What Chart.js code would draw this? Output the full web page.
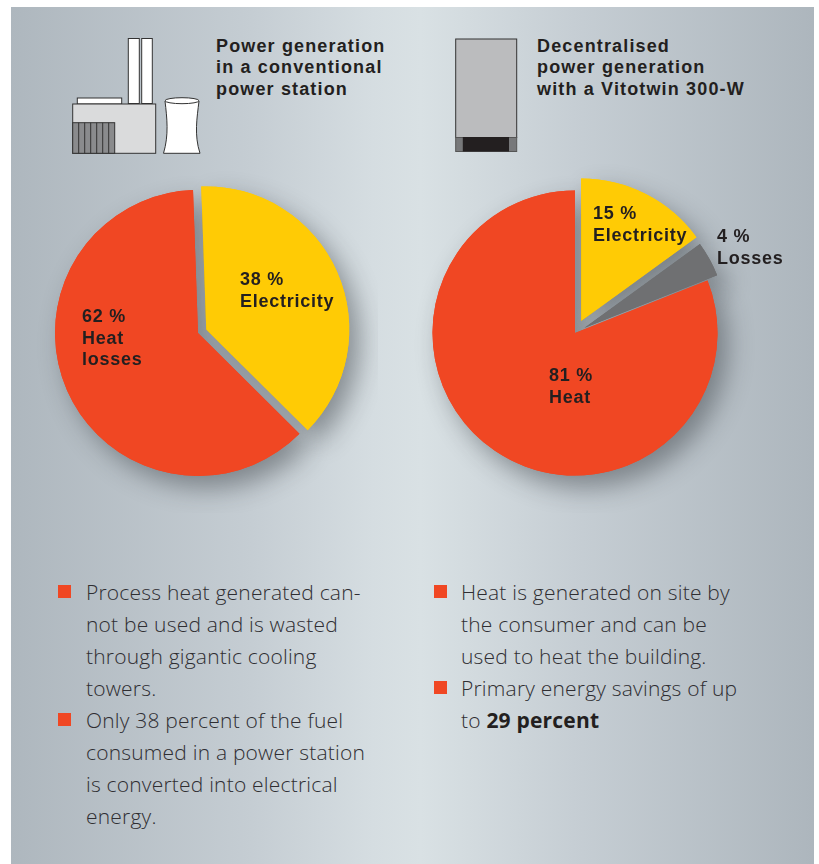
<!DOCTYPE html>
<html>
<head>
<meta charset="utf-8">
<title>Power generation</title>
<script src="https://cdn.jsdelivr.net/npm/chart.js@4"></script>
<style>
html, body { margin: 0; padding: 0; background: #fff; }
body { position: relative; width: 819px; height: 864px; overflow: hidden; color: #2a282a; }
#panel { position: absolute; left: 10.5px; top: 6.5px; width: 803px; height: 858px;
  background: linear-gradient(90deg, #aeb7be 0%, #c5cdd3 30%, #d5dde1 45%, #d9e1e4 51%, #d3dbdf 57%, #c6ced4 70%, #adb6bd 100%); }
canvas { position: absolute; }
svg { position: absolute; left: 0; top: 0; }
.head, .lab { position: absolute; font-family: "Liberation Sans", sans-serif; font-weight: 700; font-size: 18px;
  line-height: 21.5px; white-space: pre; color: #231f20; }
.head { letter-spacing: 1.15px; }
.lab { letter-spacing: 0.75px; }
.item { position: absolute; font-family: "Open Sans", sans-serif; font-weight: 300; font-size: 21px;
  line-height: 32px; letter-spacing: 0.2px; white-space: pre; color: #2f2e32; }
.item b { font-weight: 700; color: #231f20; }
.mark { position: absolute; width: 13px; height: 13px; background: #f04723; }
</style>
</head>
<body>
<div id="panel"></div>
<svg width="819" height="864">
  <!-- power station -->
  <g stroke="#333" stroke-width="1">
    <rect x="128.3" y="38.5" width="11" height="65" fill="#fff"/>
    <rect x="141.7" y="38.5" width="10.6" height="65" fill="#fff"/>
    <rect x="77.3" y="98" width="44.4" height="6" fill="#fff"/>
    <rect x="72.7" y="104" width="83" height="49.3" fill="#dadbdc"/>
    <rect x="72.7" y="122.7" width="42" height="30.6" fill="#8a8b8d"/>
    <path d="M78.7 122.7V153.3M84.7 122.7V153.3M90.7 122.7V153.3M96.7 122.7V153.3M102.7 122.7V153.3M108.7 122.7V153.3" fill="none"/>
    <path d="M165 101 C167 118 169 135 163.5 153.3 H200 C194 135 197 118 199 101 Z" fill="#fff"/>
    <ellipse cx="182" cy="100.7" rx="17" ry="3" fill="#fff"/>
  </g>
  <!-- vitotwin -->
  <rect x="455.7" y="39" width="61" height="98.5" fill="#bbbcbe" stroke="#333"/>
  <rect x="455.7" y="137.5" width="61" height="14" fill="#77787a" stroke="#555"/>
  <rect x="462.8" y="137" width="46.2" height="14.5" fill="#231f20"/>
</svg>
<canvas id="pieLeft" width="360" height="360" style="left:18px;top:153px"></canvas>
<canvas id="pieRight" width="360" height="360" style="left:395px;top:153px"></canvas>
<script>
// valores
const leftCategories = ['Electricity', 'Heat losses'];
const leftValues = [38, 62];
const rightCategories = ['Electricity', 'Losses', 'Heat'];
const rightValues = [15, 4, 81];

const leftColors = ['#ffcb05', '#f04723'];
const rightColors = ['#ffcb05', '#6f7072', '#f04723'];

// separacion de cada porcion respecto al centro
const leftShift = [9, 0];
const rightShift = [13.5, 11, 0];

const leftHeading = 'Power generation\nin a conventional\npower station';
const rightHeading = 'Decentralised\npower generation\nwith a Vitotwin 300-W';

const leftLabels = ['38 %\nElectricity', '62 %\nHeat\nlosses'];
const rightLabels = ['15 %\nElectricity', '4 %\nLosses', '81 %\nHeat'];

const leftNotes = [
    'Process heat generated can-\nnot be used and is wasted\nthrough gigantic cooling\ntowers.',
    'Only 38 percent of the fuel\nconsumed in a power station\nis converted into electrical\nenergy.'
];
const rightNotes = [
    'Heat is generated on site by\nthe consumer and can be\nused to heat the building.',
    'Primary energy savings of up\nto <b>29 percent</b>'
];

// mueve las porciones despues del update
const shiftPlugin = {
    id: 'shiftSlices',
    afterDatasetsUpdate(chart, args, opts) {
        chart.getDatasetMeta(0).data.forEach((arc, i) => {
            const mid = (arc.startAngle + arc.endAngle) / 2;
            arc.x += Math.cos(mid) * opts.shift[i];
            arc.y += Math.sin(mid) * opts.shift[i];
        });
    }
};

// sombra debajo de todas las porciones
const shadowPlugin = {
    id: 'sliceShadow',
    beforeDatasetsDraw(chart) {
        const ctx = chart.ctx;
        ctx.save();
        ctx.shadowColor = 'rgba(30,35,40,0.42)';
        ctx.shadowBlur = 26;
        ctx.shadowOffsetX = 10;
        ctx.shadowOffsetY = 12;
        chart.getDatasetMeta(0).data.forEach(arc => arc.draw(ctx));
        ctx.restore();
    }
};

function makePie(id, labels, values, colors, shift, rotation, padding) {
    return new Chart(document.getElementById(id), {
        type: 'pie',
        data: {
            labels: labels,
            datasets: [{ data: values, backgroundColor: colors, borderWidth: 0, clip: false }]
        },
        options: {
            responsive: false,
            animation: false,
            events: [],
            rotation: rotation,
            layout: { padding: padding },
            plugins: {
                legend: { display: false },
                tooltip: { enabled: false },
                shiftSlices: { shift: shift }
            }
        },
        plugins: [shiftPlugin, shadowPlugin]
    });
}

makePie('pieLeft', leftCategories, leftValues, leftColors, leftShift, -2, 37);
makePie('pieRight', rightCategories, rightValues, rightColors, rightShift, 0, 37.5);

function addText(cls, html, x, y) {
    const el = document.createElement('div');
    el.className = cls;
    el.innerHTML = html;
    el.style.left = x + 'px';
    el.style.top = y + 'px';
    document.body.appendChild(el);
}

addText('head', leftHeading, 216, 35.5);
addText('head', rightHeading, 537, 35.5);

addText('lab', leftLabels[0], 240, 269);
addText('lab', leftLabels[1], 82, 306);
addText('lab', rightLabels[0], 593, 203);
addText('lab', rightLabels[1], 717, 226);
addText('lab', rightLabels[2], 549, 365);

addText('item', leftNotes[0], 86, 576);
addText('item', leftNotes[1], 86, 704);
addText('item', rightNotes[0], 461, 576);
addText('item', rightNotes[1], 461, 672);

[[58, 585], [58, 713], [433.5, 585], [433.5, 681]].forEach(p => addText('mark', '', p[0], p[1]));
</script>
</body>
</html>
